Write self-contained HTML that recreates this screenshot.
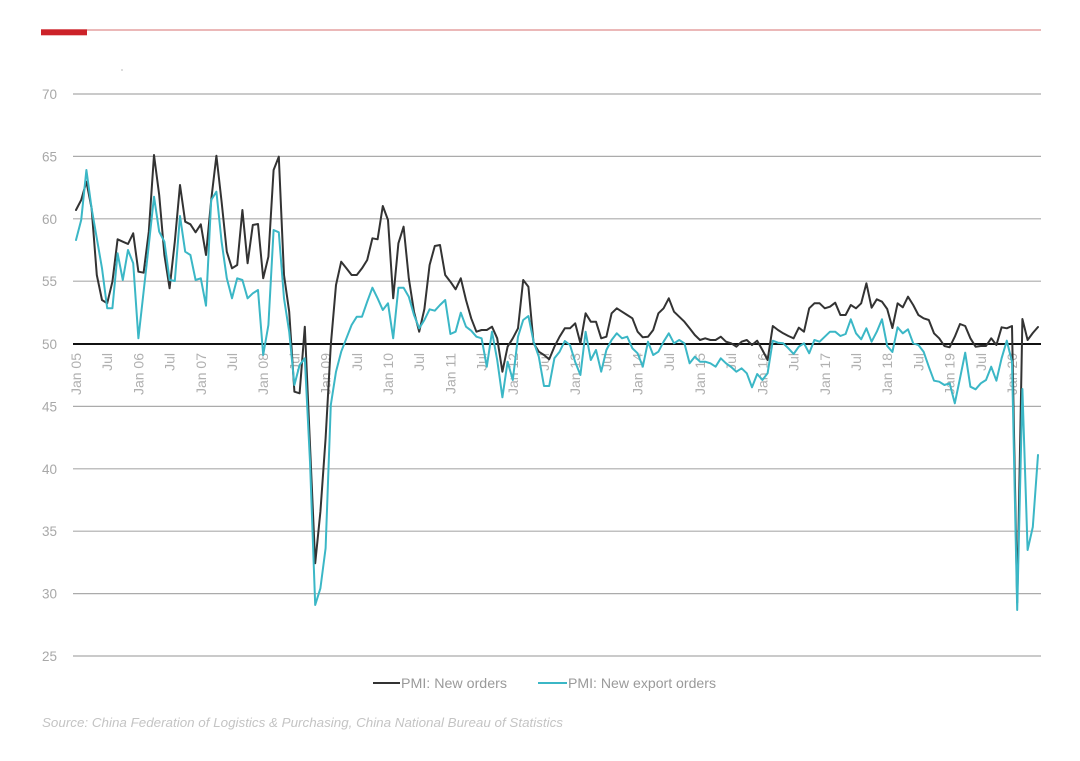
<!DOCTYPE html>
<html>
<head>
<meta charset="utf-8">
<style>
html,body{margin:0;padding:0;background:#fff;}
svg{display:block;}
text{font-family:"Liberation Sans",Arial,sans-serif;}
</style>
</head>
<body>
<svg width="1080" height="761" viewBox="0 0 1080 761" xmlns="http://www.w3.org/2000/svg">
<rect x="0" y="0" width="1080" height="761" fill="#fff"/>
<!-- header -->
<line x1="87" y1="30" x2="1041" y2="30" stroke="#d77070" stroke-width="1"/>
<rect x="41" y="29.3" width="46" height="6" fill="#cc2229"/>
<rect x="121" y="69.5" width="2" height="1" fill="#bbb"/>

<!-- gridlines -->
<g stroke="#ababab" stroke-width="1.2">
<line x1="73" y1="94" x2="1041" y2="94"/>
<line x1="73" y1="156.4" x2="1041" y2="156.4"/>
<line x1="73" y1="218.8" x2="1041" y2="218.8"/>
<line x1="73" y1="281.2" x2="1041" y2="281.2"/>
<line x1="73" y1="406.4" x2="1041" y2="406.4"/>
<line x1="73" y1="468.8" x2="1041" y2="468.8"/>
<line x1="73" y1="531.2" x2="1041" y2="531.2"/>
<line x1="73" y1="593.6" x2="1041" y2="593.6"/>
<line x1="73" y1="656" x2="1041" y2="656"/>
</g>

<!-- y labels -->
<g fill="#a8a8a8" font-size="13.5">
<text x="42" y="99">70</text>
<text x="42" y="161.4">65</text>
<text x="42" y="223.8">60</text>
<text x="42" y="286.2">55</text>
<text x="42" y="349">50</text>
<text x="42" y="411.4">45</text>
<text x="42" y="473.8">40</text>
<text x="42" y="536.2">35</text>
<text x="42" y="598.6">30</text>
<text x="42" y="661">25</text>
</g>

<!-- x labels -->
<g fill="#b0b0b0" font-size="14" text-anchor="end">
<text transform="translate(81,353) rotate(-90)">Jan 05</text>
<text transform="translate(112.2,353) rotate(-90)">Jul</text>
<text transform="translate(143.4,353) rotate(-90)">Jan 06</text>
<text transform="translate(174.6,353) rotate(-90)">Jul</text>
<text transform="translate(205.8,353) rotate(-90)">Jan 07</text>
<text transform="translate(237,353) rotate(-90)">Jul</text>
<text transform="translate(268.2,353) rotate(-90)">Jan 08</text>
<text transform="translate(299.4,353) rotate(-90)">Jul</text>
<text transform="translate(330.6,353) rotate(-90)">Jan 09</text>
<text transform="translate(361.8,353) rotate(-90)">Jul</text>
<text transform="translate(393,353) rotate(-90)">Jan 10</text>
<text transform="translate(424.2,353) rotate(-90)">Jul</text>
<text transform="translate(455.4,353) rotate(-90)">Jan 11</text>
<text transform="translate(486.6,353) rotate(-90)">Jul</text>
<text transform="translate(517.8,353) rotate(-90)">Jan 12</text>
<text transform="translate(549,353) rotate(-90)">Jul</text>
<text transform="translate(580.2,353) rotate(-90)">Jan 13</text>
<text transform="translate(611.4,353) rotate(-90)">Jul</text>
<text transform="translate(642.6,353) rotate(-90)">Jan 14</text>
<text transform="translate(673.8,353) rotate(-90)">Jul</text>
<text transform="translate(705,353) rotate(-90)">Jan 15</text>
<text transform="translate(736.2,353) rotate(-90)">Jul</text>
<text transform="translate(767.4,353) rotate(-90)">Jan 16</text>
<text transform="translate(798.6,353) rotate(-90)">Jul</text>
<text transform="translate(829.8,353) rotate(-90)">Jan 17</text>
<text transform="translate(861,353) rotate(-90)">Jul</text>
<text transform="translate(892.2,353) rotate(-90)">Jan 18</text>
<text transform="translate(923.4,353) rotate(-90)">Jul</text>
<text transform="translate(954.6,353) rotate(-90)">Jan 19</text>
<text transform="translate(985.8,353) rotate(-90)">Jul</text>
<text transform="translate(1017,353) rotate(-90)">Jan 20</text>
</g>

<!-- 50 line -->
<line x1="73" y1="344" x2="1041" y2="344" stroke="#111" stroke-width="2"/>

<!-- series: x = 76 + 5.2*i -->
<g transform="translate(76,0) scale(5.2,1)" fill="none" stroke-linejoin="round" stroke-linecap="round">
<polyline vector-effect="non-scaling-stroke" stroke="#333333" stroke-width="2" points="0,210 1,200 2,181.7 3,208.3 4,275 5,300 6,303.3 7,281.7 8,239.3 9,241.7 10,244 11,233.3 12,271.7 13,272.7 14,231.7 15,155 16,195 17,255 18,288.3 19,241.7 20,185 21,221.7 22,224.3 23,232.3 24,224.3 25,255 26,200 27,155.7 28,201.7 29,251.7 30,268.3 31,265 32,210 33,263.3 34,225 35,224 36,278.3 37,256.7 38,170 39,156.7 40,275 41,311.7 42,391.7 43,393.3 44,326.7 45,445 46,563.3 47,511.7 48,438.3 49,345 50,285 51,261.7 52,268.3 53,275 54,275 55,268.3 56,260 57,238.3 58,239.3 59,206 60,220 61,298.3 62,243.3 63,226.7 64,278.3 65,311.7 66,331.7 67,309 68,265 69,246 70,245 71,275 72,281.7 73,289.3 74,278.3 75,300 76,318.3 77,331.7 78,330 79,330 80,326.7 81,338.3 82,371.7 83,346.7 84,338.3 85,328.3 86,280 87,286.7 88,343.3 89,351.7 90,355 91,359.3 92,346.7 93,336.7 94,328.3 95,328.3 96,323.3 97,343.3 98,313.3 99,321.7 100,321.7 101,338.3 102,336.7 103,313.3 104,308.3 105,311.7 106,315 107,318.3 108,331.7 109,337.3 110,336.7 111,330 112,313.3 113,308.3 114,298.3 115,311.7 116,316.7 117,321.7 118,328.3 119,335 120,340 121,338.3 122,340 123,340 124,336.7 125,341.7 126,343.3 127,346.7 128,341.7 129,340 130,345 131,340.7 132,350 133,360 134,326 135,330 136,333.3 137,336 138,338.3 139,327.7 140,331.7 141,308.3 142,303.3 143,303.3 144,308.3 145,306.7 146,302.7 147,315 148,315 149,305 150,308.3 151,303.3 152,283.3 153,307.7 154,299.3 155,301.7 156,309 157,328 158,303.3 159,307.3 160,296.7 161,305 162,315 163,318.3 164,320 165,333.3 166,338.3 167,346 168,347.3 169,336.7 170,324 171,326 172,338.3 173,346.7 174,346 175,346 176,338.3 177,345 178,327.3 179,328.3 180,326 181,602.6 182,319 183,340 184,333 185,327"/>
<polyline vector-effect="non-scaling-stroke" stroke="#3bb7c6" stroke-width="2" points="0,240 1,220 2,170 3,208.3 4,238.3 5,268.3 6,308.3 7,308.3 8,253.3 9,280 10,250 11,263.3 12,338.3 13,291.7 14,245 15,196.7 16,231.7 17,241.7 18,280 19,281 20,216 21,251.7 22,255 23,280 24,278.3 25,305.7 26,200 27,191.7 28,241.7 29,278.3 30,298.3 31,278.3 32,280 33,298.3 34,293.3 35,290 36,355 37,325 38,230 39,232.3 40,298.3 41,331.7 42,385 43,365 44,358.3 45,461.7 46,605 47,588.3 48,548.3 49,405 50,371.7 51,351.7 52,338.3 53,325 54,316.7 55,316.7 56,301.7 57,287.7 58,298.3 59,310 60,303.3 61,338.3 62,287.7 63,287.7 64,296.7 65,315 66,328.3 67,320 68,309.3 69,310.7 70,305 71,300 72,334 73,331.7 74,312.7 75,326.7 76,330.7 77,336.7 78,338.3 79,366.7 80,331.7 81,360 82,397.3 83,361.7 84,380 85,336.7 86,320 87,316 88,341.7 89,356.7 90,386 91,386 92,358.3 93,351.7 94,341 95,345 96,362 97,375 98,331.7 99,360 100,350 101,371.7 102,350 103,340 104,333.3 105,338.3 106,336.7 107,348.3 108,353.3 109,366.7 110,341.7 111,355 112,351.7 113,341.7 114,333.3 115,343.3 116,340 117,343.3 118,363.3 119,356.7 120,361.7 121,361.7 122,363.3 123,366.7 124,358.3 125,363.3 126,367 127,371.7 128,368.3 129,373.3 130,387.3 131,374 132,380 133,373.3 134,340.7 135,342.7 136,343.3 137,348.3 138,354 139,346.7 140,343.3 141,353.3 142,340 143,341.7 144,336.7 145,331.7 146,331.7 147,336 148,334 149,319.3 150,333.3 151,339.3 152,328.3 153,341.7 154,331.7 155,319.3 156,346 157,352 158,327.3 159,333.3 160,329.3 161,343.3 162,345 163,351.7 164,366.7 165,380.7 166,381.7 167,385 168,383.3 169,403.3 170,378.3 171,352.7 172,386.7 173,389.3 174,383.3 175,380 176,366.7 177,380.7 178,358.3 179,340.7 180,361.7 181,610 182,389 183,550 184,527 185,455"/>
</g>

<!-- legend -->
<line x1="373" y1="683" x2="400" y2="683" stroke="#333" stroke-width="2"/>
<text x="401" y="688" font-size="14" fill="#9a9a9a" textLength="106" lengthAdjust="spacingAndGlyphs">PMI: New orders</text>
<line x1="538" y1="683" x2="567" y2="683" stroke="#3bb7c6" stroke-width="2"/>
<text x="568" y="688" font-size="14" fill="#9a9a9a" textLength="148" lengthAdjust="spacingAndGlyphs">PMI: New export orders</text>

<!-- source -->
<text x="42" y="727" font-size="13" font-style="italic" fill="#c4c4c4" textLength="521" lengthAdjust="spacingAndGlyphs">Source: China Federation of Logistics &amp; Purchasing, China National Bureau of Statistics</text>
</svg>
</body>
</html>
